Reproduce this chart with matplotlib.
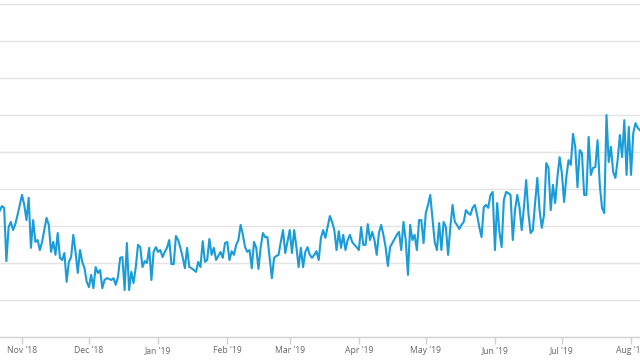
import matplotlib
matplotlib.use("Agg")
import matplotlib.pyplot as plt
import matplotlib.dates as mdates
import numpy as np
import pandas as pd

start_date = "2018-10-22"
values = [
    3.41, 3.54, 3.49, 2.05, 2.97, 3.11, 2.89, 3.05, 3.30, 3.57,
    3.84, 3.57, 3.16, 3.76, 2.41, 3.16, 2.57, 2.62, 2.35, 2.57,
    2.89, 3.22, 3.03, 2.30, 2.57, 2.22, 2.81, 2.14, 2.08, 2.27,
    1.49, 2.03, 2.16, 2.76, 2.30, 1.73, 2.35, 2.03, 1.86, 1.49,
    1.35, 1.68, 1.32, 1.89, 1.73, 1.81, 1.32, 1.54, 1.59, 1.57,
    1.54, 1.59, 1.41, 1.62, 2.14, 2.16, 1.27, 2.54, 1.27, 1.76,
    1.46, 1.89, 2.49, 2.43, 1.89, 2.05, 2.00, 2.41, 1.54, 2.30,
    2.43, 2.30, 2.35, 2.16, 2.30, 2.41, 2.62, 1.97, 1.97, 2.73,
    2.62, 2.41, 2.16, 1.86, 2.41, 1.89, 1.86, 1.81, 1.76, 2.03,
    1.89, 2.59, 2.03, 2.08, 2.65, 2.22, 2.41, 2.08, 2.19, 2.30,
    2.14, 2.54, 2.57, 2.08, 2.32, 2.22, 2.49, 2.62, 3.03, 2.76,
    2.43, 2.30, 2.35, 1.86, 2.57, 2.41, 1.84, 2.43, 2.81, 2.70,
    2.70, 2.14, 1.59, 2.14, 2.19, 2.22, 2.57, 2.89, 2.27, 2.57,
    2.89, 2.27, 2.89, 2.43, 1.89, 2.41, 1.89, 2.30, 2.43, 2.22,
    2.14, 2.22, 2.32, 2.08, 2.68, 2.89, 2.68, 2.97, 3.27, 3.11,
    2.89, 2.35, 2.86, 2.41, 2.76, 2.35, 2.62, 2.76, 2.57, 2.49,
    2.43, 2.35, 2.97, 2.49, 2.49, 3.05, 2.62, 2.84, 2.62, 2.22,
    2.81, 3.03, 2.76, 2.43, 1.92, 2.43, 2.54, 2.65, 2.76, 2.84,
    2.35, 3.11, 2.62, 1.68, 3.03, 2.62, 2.76, 2.35, 3.16, 3.16,
    2.54, 3.35, 3.57, 3.84, 3.22, 2.57, 2.35, 3.08, 2.35, 3.11,
    2.97, 2.22, 2.97, 3.57, 3.11, 3.03, 2.92, 3.03, 3.11, 3.43,
    3.35, 3.30, 3.49, 3.57, 3.30, 2.97, 2.70, 3.51, 3.57, 3.49,
    3.84, 3.92, 2.35, 3.62, 2.84, 2.43, 3.70, 3.92, 3.89, 3.84,
    2.62, 3.43, 3.84, 3.51, 2.89, 3.51, 4.24, 3.35, 2.81, 2.89,
    3.62, 4.30, 3.43, 2.95, 3.30, 4.70, 4.57, 3.43, 4.11, 3.62,
    4.32, 4.86, 4.43, 3.65, 4.32, 4.78, 4.65, 5.49, 5.14, 4.05,
    5.05, 4.97, 3.84, 3.84, 5.41, 4.38, 4.57, 4.59, 5.32, 4.11,
    3.49, 3.35, 6.00, 4.73, 5.14, 4.46, 4.30, 4.78, 5.46, 4.86,
    5.86, 4.38, 5.68, 4.38, 5.51, 5.78, 5.65, 5.59,
]
dates = pd.date_range(start_date, periods=len(values), freq="D")
grid_values = [1, 2, 3, 4, 5, 6, 7, 8, 9]

fig = plt.figure(figsize=(6.4, 3.6), dpi=100)
ax = fig.add_axes([0, 23 / 360, 1, 337 / 360])

ax.plot(dates, values, color="#1a9cd8", lw=1.5, solid_joinstyle="round")

t0 = pd.Timestamp(start_date)
ax.set_xlim(t0 + pd.Timedelta(days=0.134), t0 + pd.Timedelta(days=287.03))
ax.set_ylim(0, 337 / 37)

ax.set_yticks(grid_values)
ax.yaxis.grid(True, color="#e4e4e4", lw=1)
ax.tick_params(axis="y", left=False, labelleft=False)
ax.set_axisbelow(True)

for s in ["top", "left", "right"]:
    ax.spines[s].set_visible(False)
ax.spines["bottom"].set_color("#d0d0d0")
ax.spines["bottom"].set_linewidth(1)

ax.xaxis.set_major_locator(mdates.MonthLocator())
ax.xaxis.set_major_formatter(mdates.DateFormatter("%b '%y"))
ax.tick_params(axis="x", length=5, width=1, color="#d0d0d0",
               labelsize=6.2, labelcolor="#666666", pad=1.5)
for lab in ax.get_xticklabels():
    lab.set_fontfamily("Open Sans")

fig.savefig("out.png", dpi=100)
